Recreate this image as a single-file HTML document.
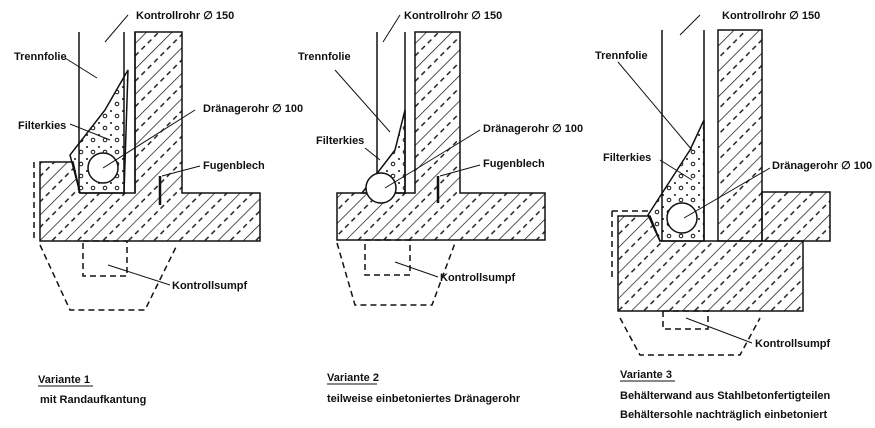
<!DOCTYPE html>
<html><head><meta charset="utf-8"><style>
body{margin:0;background:#fff}
svg{display:block}
text{font-family:"Liberation Sans Narrow","Liberation Sans",sans-serif;font-size:11px;fill:#111;font-weight:bold}
</style></head><body>
<svg width="875" height="428" viewBox="0 0 875 428" xmlns="http://www.w3.org/2000/svg">
<defs>
<pattern id="h" width="18" height="18" patternUnits="userSpaceOnUse" patternTransform="rotate(45)">
<line x1="0" y1="0" x2="0" y2="18" stroke="#111" stroke-width="1.4"/>
<line x1="9" y1="2" x2="9" y2="7" stroke="#111" stroke-width="1.4"/>
<line x1="9" y1="11" x2="9" y2="16" stroke="#111" stroke-width="1.4"/>
</pattern>
<pattern id="g" width="12" height="12" patternUnits="userSpaceOnUse">
<circle cx="3" cy="3" r="1" fill="#111"/><circle cx="9" cy="8" r="1.8" fill="none" stroke="#111"/>
</pattern>
</defs>
<g stroke="#111" stroke-width="1.5" fill="none">
<!-- Variant 1 -->
<path d="M40,162 H73 L80,193 H135 V32 H182 V193 H260 V241 H40 Z" fill="url(#h)"/>
<path d="M79,32 V193 M124,32 V193 M135,32 V193"/>
<path d="M80,193 L70,155 L105,110 L128,70 L124,193 Z" fill="url(#g)"/>
<circle cx="103" cy="168" r="15" fill="#fff"/>
<path d="M160,176 V205" stroke-width="2.5"/>
<g stroke-dasharray="6,4"><path d="M34,162 V240"/><rect x="83" y="241" width="44" height="35"/><path d="M40,245 L70,310 H145 L177,245"/></g>
<path d="M105,42 L128,15 M97,78 L65,58 M70,124 L110,140 M103,168 L195,110 M162,176 L200,166 M108,265 L170,285" stroke-width="1"/>
<!-- Variant 2 -->
<path d="M337,193 H415 V32 H460 V193 H545 V240 H337 Z" fill="url(#h)"/>
<path d="M377,32 V193 M405,32 V193"/>
<path d="M362,193 L395,150 L405,110 V193 Z" fill="url(#g)"/>
<circle cx="381" cy="188" r="15" fill="#fff"/>
<path d="M438,176 V203" stroke-width="2.5"/>
<g stroke-dasharray="6,4"><rect x="365" y="240" width="45" height="35"/><path d="M337,243 L355,305 H432 L455,243"/></g>
<path d="M383,42 L400,15 M390,132 L335,70 M380,160 L365,148 M385,188 L480,130 M440,176 L480,165 M395,262 L438,277" stroke-width="1"/>
<!-- Variant 3 -->
<path d="M618,216 H650 L660,241 H803 V311 H618 Z" fill="url(#h)"/>
<path d="M718,30 H762 V241 H718 Z" fill="url(#h)"/>
<path d="M762,192 H830 V241 H762 Z" fill="url(#h)"/>
<path d="M662,30 V241 M704,30 V241"/>
<path d="M660,241 L648,215 L690,150 L704,120 V241 Z" fill="url(#g)"/>
<circle cx="682" cy="218" r="15" fill="#fff"/>
<g stroke-dasharray="6,4"><path d="M612,211 H650 M612,211 V280"/><rect x="663" y="311" width="45" height="18"/><path d="M620,318 L640,355 H740 L760,318"/></g>
<path d="M680,35 L700,15 M692,150 L618,62 M660,160 L692,180 M684,218 L770,168 M686,318 L752,343" stroke-width="1"/>
<!-- underlines -->
<path d="M38,386 H93 M327,384 H377 M620,381 H675" stroke-width="1"/>
</g>
<text x="136" y="19">Kontrollrohr ∅ 150</text>
<text x="14" y="60">Trennfolie</text>
<text x="18" y="129">Filterkies</text>
<text x="203" y="112">Dränagerohr ∅ 100</text>
<text x="203" y="169">Fugenblech</text>
<text x="172" y="289">Kontrollsumpf</text>
<text x="38" y="383">Variante 1</text>
<text x="40" y="403">mit Randaufkantung</text>
<text x="404" y="19">Kontrollrohr ∅ 150</text>
<text x="298" y="60">Trennfolie</text>
<text x="316" y="144">Filterkies</text>
<text x="483" y="132">Dränagerohr ∅ 100</text>
<text x="483" y="167">Fugenblech</text>
<text x="440" y="281">Kontrollsumpf</text>
<text x="327" y="381">Variante 2</text>
<text x="327" y="402">teilweise einbetoniertes Dränagerohr</text>
<text x="722" y="19">Kontrollrohr ∅ 150</text>
<text x="595" y="59">Trennfolie</text>
<text x="603" y="161">Filterkies</text>
<text x="772" y="169">Dränagerohr ∅ 100</text>
<text x="755" y="347">Kontrollsumpf</text>
<text x="620" y="378">Variante 3</text>
<text x="620" y="399">Behälterwand aus Stahlbetonfertigteilen</text>
<text x="620" y="418">Behältersohle nachträglich einbetoniert</text>
</svg>
</body></html>
